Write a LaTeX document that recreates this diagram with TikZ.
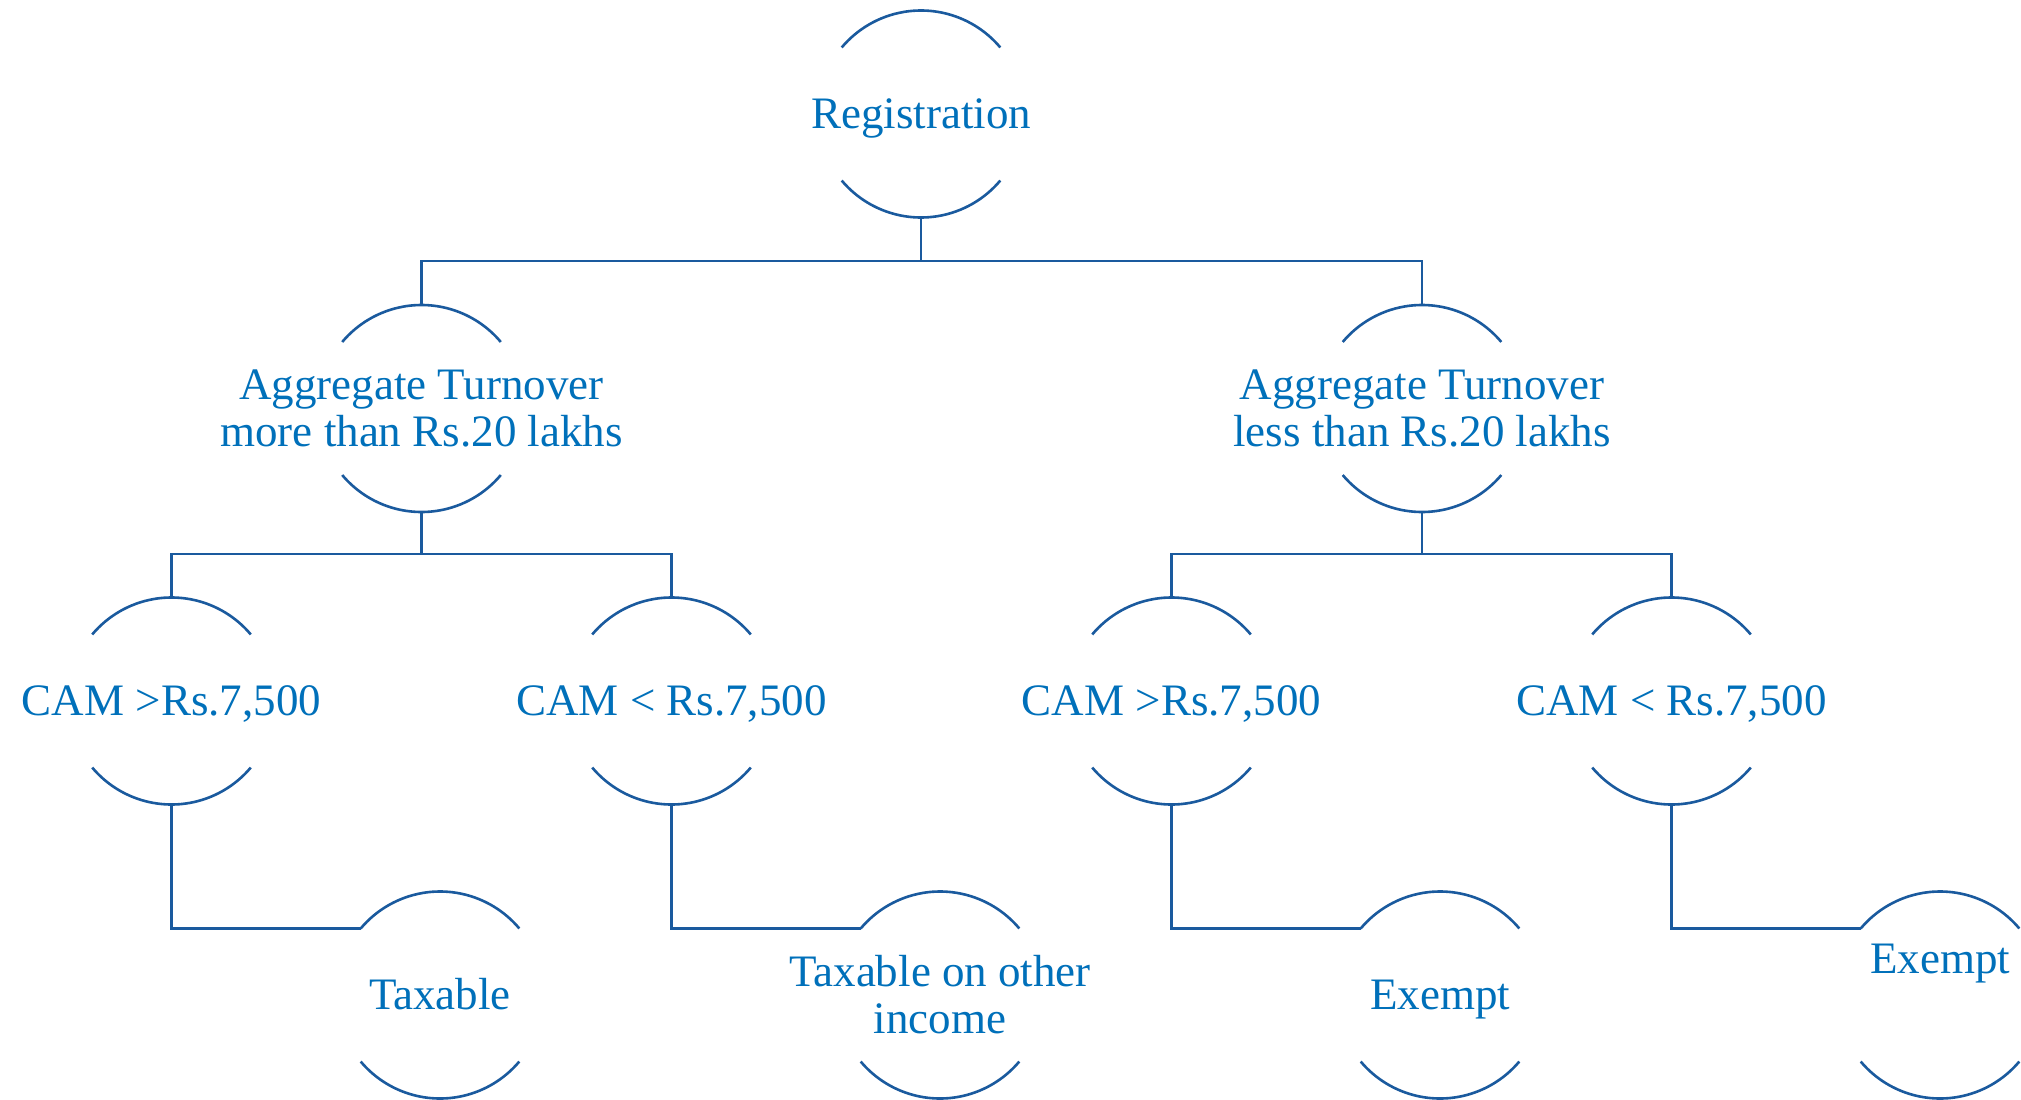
\documentclass[tikz,border=0pt]{standalone}
\usepackage{fontspec}
\setmainfont{Liberation Serif}
\definecolor{txtblue}{RGB}{0,112,186}
\definecolor{lnblue}{RGB}{26,90,158}
\begin{document}
\begin{tikzpicture}[x=1pt,y=1pt,
  bub/.style={rectangle, inner sep=0pt, outer sep=0pt, align=center,
    text=txtblue, font=\fontsize{45}{47}\selectfont},
  oneline/.style={text height=32pt, text depth=4pt},
  ln/.style={draw=lnblue, line width=2.6pt}]
\useasboundingbox (0,0) rectangle (2021,-1100);
\fill[white] (0,0) rectangle (2021,-1100);
\def\R{103.5}
% level 1
\node[bub,oneline] (reg) at (921,-114) {Registration};
% level 2
\node[bub] (more) at (421.5,-408.5) {Aggregate Turnover\\more than Rs.20 lakhs};
\node[bub] (less) at (1422,-408.5) {Aggregate Turnover\\less than Rs.20 lakhs};
% level 3
\node[bub,oneline] (c1) at (171.5,-701) {CAM >Rs.7,500};
\node[bub,oneline] (c2) at (671.5,-701) {CAM < Rs.7,500};
\node[bub,oneline] (c3) at (1171.5,-701) {CAM >Rs.7,500};
\node[bub,oneline] (c4) at (1671.5,-701) {CAM < Rs.7,500};
% level 4
\node[bub,oneline] (t1) at (440,-995) {Taxable};
\node[bub] (t2) at (940,-995) {Taxable on other\\income};
\node[bub,oneline] (t3) at (1440,-995) {Exempt};
\node[bub] (t4) at (1940,-995) {\raisebox{22pt}[0pt][0pt]{Exempt}};
% bubble arcs
\foreach \n in {reg,more,less,c1,c2,c3,c4,t1,t2,t3,t4}{
  \draw[ln] ([shift={(40:\R)}]\n.center) arc[start angle=40,end angle=140,radius=\R];
  \draw[ln] ([shift={(220:\R)}]\n.center) arc[start angle=220,end angle=320,radius=\R];
}
% connectors
\coordinate (b1) at (921,-261);
\coordinate (b2) at (421.5,-554);
\coordinate (b3) at (1422,-554);
\draw[ln] ([yshift=-\R pt]reg.center) -- (b1) -| ([yshift=\R pt]more.center);
\draw[ln] (b1) -| ([yshift=\R pt]less.center);
\draw[ln] ([yshift=-\R pt]more.center) -- (b2) -| ([yshift=\R pt]c1.center);
\draw[ln] (b2) -| ([yshift=\R pt]c2.center);
\draw[ln] ([yshift=-\R pt]less.center) -- (b3) -| ([yshift=\R pt]c3.center);
\draw[ln] (b3) -| ([yshift=\R pt]c4.center);
\draw[ln] ([yshift=-\R pt]c1.center) |- ([shift={(140:\R)}]t1.center);
\draw[ln] ([yshift=-\R pt]c2.center) |- ([shift={(140:\R)}]t2.center);
\draw[ln] ([yshift=-\R pt]c3.center) |- ([shift={(140:\R)}]t3.center);
\draw[ln] ([yshift=-\R pt]c4.center) |- ([shift={(140:\R)}]t4.center);
\end{tikzpicture}
\end{document}
